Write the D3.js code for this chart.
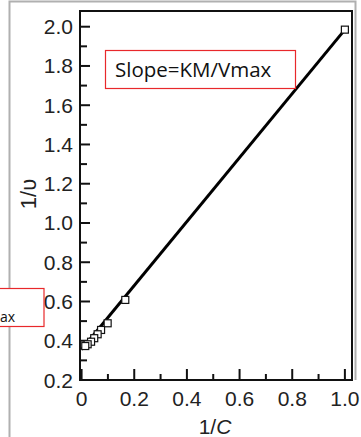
<!DOCTYPE html>
<html lang="en">
<head>
<meta charset="UTF-8"/>
<script src="https://d3js.org/d3.v7.min.js"></script>
<title>Lineweaver-Burk</title>
<style>
  body { margin: 0; background: #fff; }
</style>
</head>
<body>
<div id="chart"></div>
<script>
// Data
var invC = [1.0, 0.166, 0.099, 0.074, 0.061, 0.048, 0.036, 0.023, 0.014];
var invV = [1.985, 0.608, 0.489, 0.455, 0.433, 0.413, 0.395, 0.382, 0.373];
var fitX = [0, 1.0];
var fitY = [0.355, 1.985];
var xTicks = [0, 0.2, 0.4, 0.6, 0.8, 1.0];
var yTicks = [0.2, 0.4, 0.6, 0.8, 1.0, 1.2, 1.4, 1.6, 1.8, 2.0];

var width = 361, height = 437;
// plot box edges (note: "top" is reserved on window, so use other names)
var plotL = 80, plotR = 352, plotT = 11, plotB = 380;

var svg = d3.select("#chart").append("svg")
  .attr("width", width)
  .attr("height", height);

var x = d3.scaleLinear().domain([-0.006, 1.027]).range([plotL, plotR]);
var y = d3.scaleLinear().domain([0.2, 2.08]).range([plotB, plotT]);

// grey picture border
svg.append("path")
  .attr("d", "M9.5,437V1.5H355.5V380")
  .attr("fill", "none")
  .attr("stroke", "#b0b0b0")
  .attr("stroke-width", 2);

// plot frame
svg.append("rect")
  .attr("x", plotL).attr("y", plotT)
  .attr("width", plotR - plotL).attr("height", plotB - plotT)
  .attr("fill", "none")
  .attr("stroke", "#111")
  .attr("stroke-width", 2);

// minor ticks
var xMinor = d3.range(0.1, 1.01, 0.2);
var yMinor = d3.range(0.3, 2.01, 0.2);

svg.selectAll(".xt").data(xTicks.concat(xMinor)).enter().append("line")
  .attr("x1", d => x(d)).attr("x2", d => x(d))
  .attr("y1", plotB)
  .attr("y2", (d, i) => i < xTicks.length ? plotB - 11 : plotB - 6)
  .attr("stroke", "#111").attr("stroke-width", 2);

svg.selectAll(".yt").data(yTicks.concat(yMinor)).enter().append("line")
  .attr("y1", d => y(d)).attr("y2", d => y(d))
  .attr("x1", plotL)
  .attr("x2", (d, i) => i < yTicks.length ? plotL + 10 : plotL + 7)
  .attr("stroke", "#111").attr("stroke-width", 2);

var font = "'Liberation Sans', Arial, sans-serif";

svg.selectAll(".xl").data(xTicks).enter().append("text")
  .attr("x", d => x(d))
  .attr("y", 406)
  .attr("text-anchor", "middle")
  .style("font-family", font)
  .style("font-size", "21px")
  .attr("fill", "#222")
  .text(d => d === 0 ? "0" : d.toFixed(1));

svg.selectAll(".yl").data(yTicks).enter().append("text")
  .attr("x", 73)
  .attr("y", d => y(d) + 7.5)
  .attr("text-anchor", "end")
  .style("font-family", font)
  .style("font-size", "21px")
  .attr("fill", "#222")
  .text(d => d.toFixed(1));

// axis titles
var xt = svg.append("text")
  .attr("x", 215).attr("y", 434)
  .attr("text-anchor", "middle")
  .style("font-family", font)
  .style("font-size", "21px")
  .attr("fill", "#222");
xt.append("tspan").text("1/");
xt.append("tspan").style("font-style", "italic").text("C");

svg.append("text")
  .attr("transform", "translate(36,194) rotate(-90)")
  .attr("text-anchor", "middle")
  .style("font-family", font)
  .style("font-size", "22px")
  .attr("fill", "#222")
  .text("1/\u03c5");

// fitted line
var line = d3.line().x(d => x(d[0])).y(d => y(d[1]));
svg.append("path")
  .datum(d3.zip(fitX, fitY))
  .attr("d", line)
  .attr("fill", "none")
  .attr("stroke", "#000")
  .attr("stroke-width", 3);

// open squares
svg.selectAll(".pt").data(d3.zip(invC, invV)).enter().append("rect")
  .attr("x", d => x(d[0]) - 3.5)
  .attr("y", d => y(d[1]) - 3.5)
  .attr("width", 7).attr("height", 7)
  .attr("fill", "#fff")
  .attr("stroke", "#111")
  .attr("stroke-width", 1.2);

// annotation boxes
svg.append("rect")
  .attr("x", 105.5).attr("y", 50.5)
  .attr("width", 190).attr("height", 38)
  .attr("fill", "#fff")
  .attr("stroke", "#e8282b").attr("stroke-width", 1.2);
svg.append("text")
  .attr("x", 115).attr("y", 77)
  .style("font-family", "'Open Sans', sans-serif")
  .style("font-size", "20.5px")
  .attr("fill", "#111")
  .text("Slope=KM/Vmax");

// second box is cut off at the left edge in the reference
svg.append("rect")
  .attr("x", -60).attr("y", 288.5)
  .attr("width", 104).attr("height", 38)
  .attr("fill", "#fff")
  .attr("stroke", "#e8282b").attr("stroke-width", 1.2);
svg.append("text")
  .attr("x", 15).attr("y", 322)
  .attr("text-anchor", "end")
  .style("font-family", "'Open Sans', sans-serif")
  .style("font-size", "14px")
  .attr("fill", "#111")
  .text("Intercept=1/Vmax");
</script>
</body>
</html>
